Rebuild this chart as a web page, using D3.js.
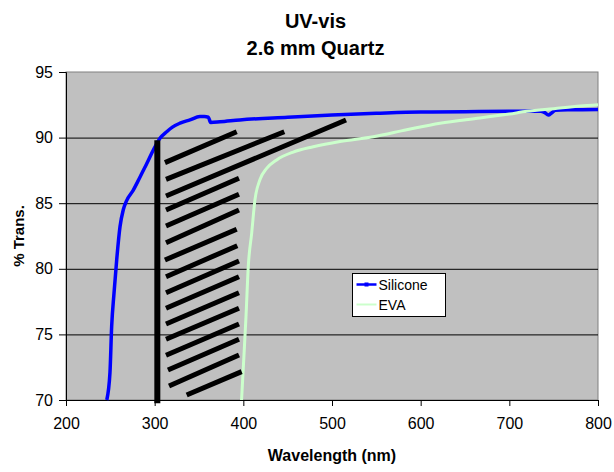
<!DOCTYPE html>
<html>
<head>
<meta charset="utf-8">
<script src="https://cdn.jsdelivr.net/npm/d3@7"></script>
<style>
  body { margin: 0; background: #fff; }
  svg { display: block; font-family: "Liberation Sans", Arial, sans-serif; }
</style>
</head>
<body>
<div class="canvas"></div>
<script>
// Silicone curve (nm, %T)
const siliconeWl = [246, 249.6, 251.5, 254.1, 257.2, 260.9, 264.6, 268.4, 275.9, 283.5, 291, 298.5, 306, 313.6, 320, 328.6, 339.8, 351, 356, 360.5, 363.2, 373.7, 396, 450, 500, 550, 600, 650, 700, 735, 740, 744, 748, 752, 770, 800];
const siliconeT  = [70, 72.1, 75.6, 78.1, 80.7, 83.2, 84.5, 85.2, 86.0, 87.0, 88.0, 89.05, 89.95, 90.45, 90.8, 91.1, 91.35, 91.6, 91.6, 91.55, 91.15, 91.2, 91.35, 91.55, 91.72, 91.85, 91.95, 91.97, 92.0, 92.0, 91.9, 91.72, 91.9, 92.08, 92.12, 92.15];
// EVA curve
const evaWl = [398, 400, 403, 405.6, 409.4, 413.1, 418.8, 426.3, 437.6, 456.3, 478.9, 509, 546.6, 584.2, 621.8, 667, 700, 720, 750, 780, 800];
const evaT  = [70, 72.5, 76.35, 80.2, 82.7, 85.25, 86.8, 87.65, 88.3, 88.9, 89.3, 89.7, 90.07, 90.6, 91.1, 91.5, 91.8, 92.0, 92.2, 92.4, 92.5];
// hatch marks: start / end as [nm, %T]
const hatchStart = [[311.6, 88.09], [312.8, 86.82], [312.8, 85.55], [312.8, 84.48], [312.8, 83.26], [312.8, 81.99], [311.6, 80.67], [312.8, 79.4], [312.8, 78.18], [312.8, 76.99], [312.8, 75.79], [312.8, 74.63], [312.8, 73.41], [315, 72.29], [316.2, 71.07], [336.1, 70.38]];
const hatchEnd   = [[392.5, 90.45], [446.2, 90.45], [515.8, 91.34], [395.1, 86.9], [395.1, 85.68], [395.1, 84.48], [392.5, 83.01], [393.2, 81.76], [395.1, 80.59], [395.1, 79.4], [395.1, 78.18], [395.1, 76.99], [395.1, 75.79], [395.1, 74.63], [395.1, 73.43], [398.1, 72.16]];
// cutoff bar: nm, top %T, bottom %T
const cutoff = [303, 89.8, 69.75];

const xTicks = [200, 300, 400, 500, 600, 700, 800];
const yTicks = [70, 75, 80, 85, 90, 95];
const series = [
  { name: "Silicone", wl: siliconeWl, t: siliconeT, color: "#0000ff", w: 3.5 },
  { name: "EVA", wl: evaWl, t: evaT, color: "#ccffcc", w: 3 }
];

const width = 614, height = 472;
const margin = { top: 72, right: 16, bottom: 72, left: 66 };

const x = d3.scaleLinear().domain([200, 800]).range([margin.left, width - margin.right]);
const y = d3.scaleLinear().domain([70, 95]).range([height - margin.bottom, margin.top]);

const svg = d3.select(".canvas").append("svg")
  .attr("width", width).attr("height", height);

// plot area
svg.append("rect")
  .attr("x", x(200)).attr("y", y(95))
  .attr("width", x(800) - x(200)).attr("height", y(70) - y(95))
  .attr("fill", "#c0c0c0").attr("stroke", "#808080");

// gridlines
svg.append("g").selectAll("line")
  .data(yTicks.filter(d => d > 70 && d < 95))
  .join("line")
  .attr("x1", x(200)).attr("x2", x(800))
  .attr("y1", d => y(d) + 0.5).attr("y2", d => y(d) + 0.5)
  .attr("stroke", "#000");

// axes
const xAxis = svg.append("g")
  .attr("transform", `translate(0,${y(70)})`)
  .call(d3.axisBottom(x).tickValues(xTicks).tickSizeOuter(0).tickSize(6).tickPadding(12));
const yAxis = svg.append("g")
  .attr("transform", `translate(${x(200)},0)`)
  .call(d3.axisLeft(y).tickValues(yTicks).tickSizeOuter(0).tickSize(7).tickPadding(6));
[xAxis, yAxis].forEach(g => {
  g.selectAll("text").attr("font-size", 16).attr("font-family", "Liberation Sans, Arial, sans-serif").attr("fill", "#000");
  g.select(".domain").attr("stroke", "#000");
  g.selectAll(".tick line").attr("stroke", "#000");
});

// data lines
const line = d3.line().curve(d3.curveMonotoneX);
series.forEach(s => {
  svg.append("path")
    .attr("d", line(s.wl.map((w, i) => [x(w), y(s.t[i])])))
    .attr("fill", "none")
    .attr("stroke", s.color)
    .attr("stroke-width", s.w)
    .attr("stroke-linejoin", "round");
});

// hatch
svg.append("g").selectAll("line")
  .data(hatchStart)
  .join("line")
  .attr("x1", d => x(d[0])).attr("y1", d => y(d[1]))
  .attr("x2", (d, i) => x(hatchEnd[i][0])).attr("y2", (d, i) => y(hatchEnd[i][1]))
  .attr("stroke", "#000").attr("stroke-width", 5);

svg.append("line")
  .attr("x1", x(cutoff[0])).attr("x2", x(cutoff[0]))
  .attr("y1", y(cutoff[1])).attr("y2", y(cutoff[2]))
  .attr("stroke", "#000").attr("stroke-width", 6);

// legend
const legend = svg.append("g").attr("transform", "translate(352.5,273.5)");
legend.append("rect").attr("width", 93).attr("height", 43).attr("fill", "#fff").attr("stroke", "#000");
series.forEach((s, i) => {
  const ly = 11 + i * 20;
  legend.append("line").attr("x1", 4).attr("x2", 24).attr("y1", ly).attr("y2", ly)
    .attr("stroke", s.color).attr("stroke-width", s.w - 1);
  if (i === 0) legend.append("rect").attr("x", 12).attr("y", ly - 2).attr("width", 4).attr("height", 4).attr("fill", s.color);
  legend.append("text").attr("x", 26).attr("y", ly + 5).attr("font-size", 14).text(s.name);
});

// titles
svg.append("text").attr("x", 315.5).attr("y", 28).attr("text-anchor", "middle")
  .attr("font-size", 20).attr("font-weight", "bold").text("UV-vis");
svg.append("text").attr("x", 315.5).attr("y", 55).attr("text-anchor", "middle")
  .attr("font-size", 20).attr("font-weight", "bold").text("2.6 mm Quartz");
svg.append("text").attr("x", 332).attr("y", 461).attr("text-anchor", "middle")
  .attr("font-size", 16).attr("font-weight", "bold").text("Wavelength (nm)");
svg.append("text").attr("transform", `translate(24,${(y(70) + y(95)) / 2}) rotate(-90)`)
  .attr("text-anchor", "middle")
  .attr("font-size", 15).attr("font-weight", "bold").text("% Trans.");
</script>
</body>
</html>
